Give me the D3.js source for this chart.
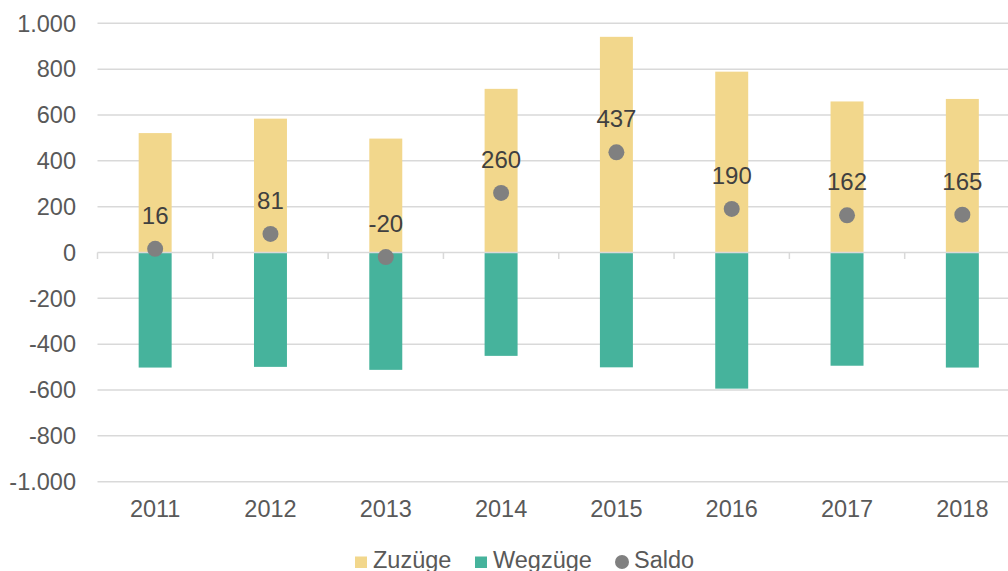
<!DOCTYPE html>
<html>
<head>
<meta charset="utf-8">
<script src="https://cdn.jsdelivr.net/npm/d3@7"></script>
<style>
  body { margin: 0; background: #fff; }
  svg { display: block; font-family: "Liberation Sans", Arial, sans-serif; }
</style>
</head>
<body>
<div id="chart"></div>
<script>
const years = ['2011', '2012', '2013', '2014', '2015', '2016', '2017', '2018'];
const zuzuege = [521, 584, 497, 714, 941, 789, 659, 670];
const wegzuege = [-502, -499, -512, -451, -501, -594, -494, -502];
const saldo = [16, 81, -20, 260, 437, 190, 162, 165];
const yTicks = [-1000, -800, -600, -400, -200, 0, 200, 400, 600, 800, 1000];
const seriesNames = ['Zuzüge', 'Wegzüge', 'Saldo'];

const W = 1008, H = 571;
const colZu = '#f2d78c', colWeg = '#46b39c', colSaldo = '#808080';
const gridCol = '#d9d9d9';

const de = d3.formatLocale({ decimal: ',', thousands: '.', grouping: [3], currency: ['', ' €'], minus: '-' });
const fmt = de.format(',d');

const svg = d3.select('#chart').append('svg')
  .attr('width', W)
  .attr('height', H);

const x = d3.scaleBand().domain(years).range([97.5, 1020]);
const y = d3.scaleLinear().domain([-1000, 1000]).range([481.7, 23.3]);
const barW = x.bandwidth() * 0.286;

// gridlines
svg.append('g').selectAll('line')
  .data(yTicks.filter(d => d !== 0))
  .enter().append('line')
  .attr('x1', x.range()[0]).attr('x2', W)
  .attr('y1', d => y(d)).attr('y2', d => y(d))
  .attr('stroke', gridCol).attr('stroke-width', 1.5);

// y labels
svg.append('g').selectAll('text')
  .data(yTicks)
  .enter().append('text')
  .attr('x', 76)
  .attr('y', d => y(d))
  .attr('dy', '0.35em')
  .attr('text-anchor', 'end')
  .attr('font-size', 23.5)
  .attr('fill', '#595959')
  .text(d => fmt(d));

// bars
svg.append('g').selectAll('rect')
  .data(years)
  .enter().append('rect')
  .attr('x', d => x(d) + (x.bandwidth() - barW) / 2)
  .attr('width', barW)
  .attr('y', (d, i) => y(zuzuege[i]))
  .attr('height', (d, i) => y(0) - y(zuzuege[i]))
  .attr('fill', colZu);

svg.append('g').selectAll('rect')
  .data(years)
  .enter().append('rect')
  .attr('x', d => x(d) + (x.bandwidth() - barW) / 2)
  .attr('width', barW)
  .attr('y', y(0))
  .attr('height', (d, i) => y(wegzuege[i]) - y(0))
  .attr('fill', colWeg);

// zero axis + ticks
svg.append('line')
  .attr('x1', x.range()[0]).attr('x2', W)
  .attr('y1', y(0)).attr('y2', y(0))
  .attr('stroke', gridCol).attr('stroke-width', 1.5);

svg.append('g').selectAll('line')
  .data(years.concat(['end']))
  .enter().append('line')
  .attr('x1', (d, i) => x.range()[0] + i * x.step())
  .attr('x2', (d, i) => x.range()[0] + i * x.step())
  .attr('y1', y(0)).attr('y2', y(0) + 6.5)
  .attr('stroke', gridCol).attr('stroke-width', 1.5);

// x labels
svg.append('g').selectAll('text')
  .data(years)
  .enter().append('text')
  .attr('x', d => x(d) + x.bandwidth() / 2)
  .attr('y', 517)
  .attr('text-anchor', 'middle')
  .attr('font-size', 23.5)
  .attr('fill', '#595959')
  .text(d => d);

// saldo dots and labels
svg.append('g').selectAll('circle')
  .data(years)
  .enter().append('circle')
  .attr('cx', d => x(d) + x.bandwidth() / 2)
  .attr('cy', (d, i) => y(saldo[i]))
  .attr('r', 8)
  .attr('fill', colSaldo);

svg.append('g').selectAll('text')
  .data(years)
  .enter().append('text')
  .attr('x', d => x(d) + x.bandwidth() / 2)
  .attr('y', (d, i) => y(saldo[i]) - 25)
  .attr('text-anchor', 'middle')
  .attr('font-size', 24)
  .attr('fill', '#404040')
  .text((d, i) => fmt(saldo[i]));

// legend
const legend = svg.append('g').attr('class', 'legend');
const legX = [355, 475, 615];
seriesNames.forEach(function (name, i) {
  const g = legend.append('g').attr('transform', 'translate(' + legX[i] + ',0)');
  if (i < 2) {
    g.append('rect')
      .attr('x', 0).attr('y', 556.5)
      .attr('width', 12).attr('height', 11.5)
      .attr('fill', i === 0 ? colZu : colWeg);
  } else {
    g.append('circle')
      .attr('cx', 7).attr('cy', 562).attr('r', 7)
      .attr('fill', colSaldo);
  }
  g.append('text')
    .attr('x', i < 2 ? 18 : 19)
    .attr('y', 568)
    .attr('font-size', 23.5)
    .attr('fill', '#595959')
    .text(name);
});
</script>
</body>
</html>
